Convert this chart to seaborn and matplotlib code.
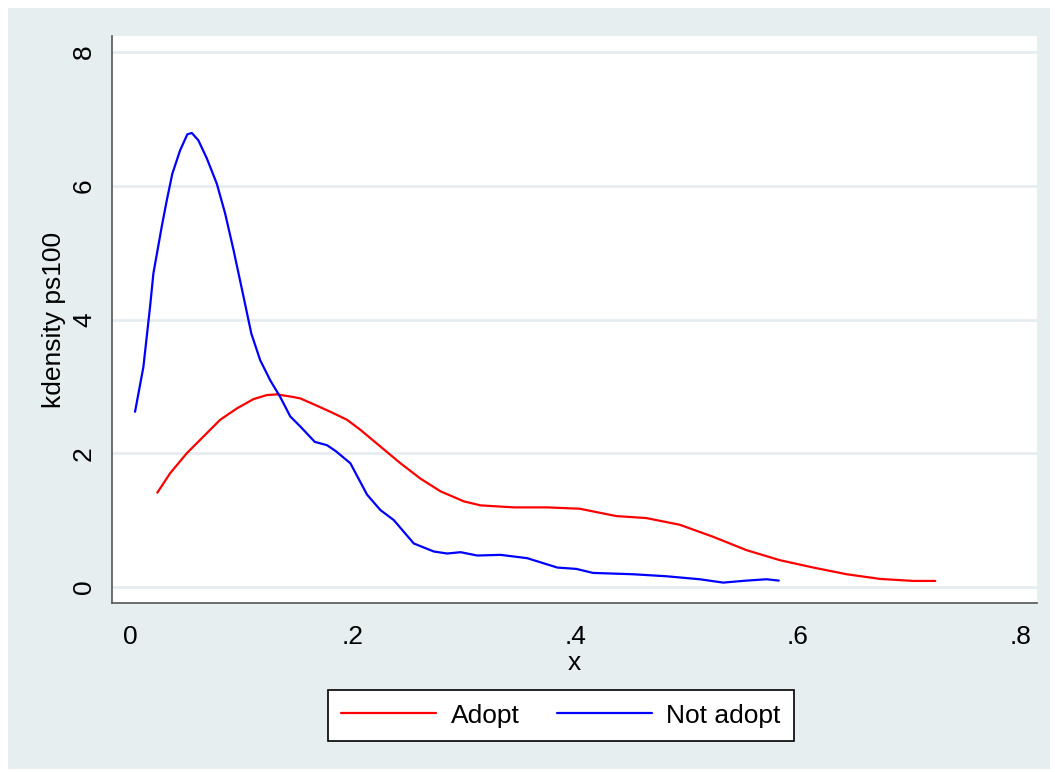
import pandas as pd
import matplotlib.pyplot as plt
import seaborn as sns
from matplotlib.patches import Rectangle

# Density curves (x = propensity score, y = density)
adopt_x = [0.0245, 0.036, 0.051, 0.066, 0.081, 0.096, 0.111, 0.123, 0.132, 0.147,
           0.153, 0.168, 0.180, 0.195, 0.207, 0.225, 0.243, 0.261, 0.279, 0.300,
           0.315, 0.345, 0.375, 0.404, 0.437, 0.464, 0.494, 0.524, 0.554, 0.584,
           0.614, 0.644, 0.674, 0.704, 0.7236]
adopt_y = [1.41, 1.70, 2.00, 2.25, 2.50, 2.67, 2.81, 2.87, 2.88, 2.84,
           2.82, 2.71, 2.62, 2.50, 2.35, 2.10, 1.85, 1.62, 1.43, 1.28,
           1.22, 1.19, 1.19, 1.17, 1.06, 1.03, 0.93, 0.75, 0.55, 0.40,
           0.29, 0.19, 0.12, 0.09, 0.09]

notadopt_x = [0.0045, 0.012, 0.018, 0.021, 0.0285, 0.033, 0.038, 0.045, 0.0515, 0.0555,
              0.0614, 0.069, 0.078, 0.0854, 0.093, 0.102, 0.109, 0.117, 0.126, 0.135,
              0.144, 0.153, 0.166, 0.177, 0.185, 0.198, 0.213, 0.225, 0.237, 0.255,
              0.273, 0.285, 0.297, 0.312, 0.333, 0.357, 0.384, 0.401, 0.416, 0.452,
              0.482, 0.512, 0.533, 0.554, 0.572, 0.583]
notadopt_y = [2.62, 3.29, 4.19, 4.69, 5.39, 5.78, 6.18, 6.53, 6.77, 6.79,
              6.68, 6.41, 6.03, 5.59, 5.04, 4.34, 3.79, 3.39, 3.09, 2.84,
              2.55, 2.40, 2.17, 2.12, 2.03, 1.85, 1.38, 1.15, 1.00, 0.65,
              0.53, 0.50, 0.52, 0.47, 0.48, 0.43, 0.29, 0.27, 0.21, 0.19,
              0.16, 0.115, 0.065, 0.095, 0.115, 0.095]

groups = ["Adopt", "Not adopt"]
xticks = [0, 0.2, 0.4, 0.6, 0.8]
xticklabels = ["0", ".2", ".4", ".6", ".8"]
yticks = [0, 2, 4, 6, 8]

df = pd.concat([
    pd.DataFrame({"x": adopt_x, "density": adopt_y, "group": groups[0]}),
    pd.DataFrame({"x": notadopt_x, "density": notadopt_y, "group": groups[1]}),
], ignore_index=True)

sns.set_style("white")
plt.rcParams["font.family"] = ["Liberation Sans", "DejaVu Sans"]
plt.rcParams["text.color"] = "black"
plt.rcParams["axes.labelcolor"] = "black"
plt.rcParams["xtick.color"] = "black"
plt.rcParams["ytick.color"] = "black"

bg = "#E7EEF0"
W, H = 1055, 772
fig = plt.figure(figsize=(W / 100, H / 100), dpi=100, facecolor="white")
fig.patches.append(Rectangle((8 / W, 3 / H), (W - 13) / W, (H - 11) / H,
                             transform=fig.transFigure, facecolor=bg,
                             edgecolor="none", zorder=-10))

ax = fig.add_axes([112 / W, (H - 603) / H, (1037 - 112) / W, (603 - 36) / H])
ax.set_facecolor("white")

sns.lineplot(data=df, x="x", y="density", hue="group", sort=False,
             estimator=None, palette={"Adopt": "#FF0000", "Not adopt": "#0000FF"},
             linewidth=1.6, legend=False, ax=ax)

ax.set_xlim(-0.0162, 0.815)
ax.set_ylim(-0.24, 8.24)
ax.set_xticks(xticks)
ax.set_xticklabels(xticklabels)
ax.set_yticks(yticks)
ax.set_yticklabels([str(v) for v in yticks], rotation=90, va="center")

for v in yticks:
    ax.axhline(v, color="#E6EDF0", linewidth=2, zorder=0)

for side in ["top", "right"]:
    ax.spines[side].set_visible(False)
for side in ["left", "bottom"]:
    ax.spines[side].set_color("#555555")
    ax.spines[side].set_linewidth(1.2)

ax.tick_params(axis="both", direction="out", length=8.5, width=1, color="#555555",
               labelsize=19, pad=3)
ax.tick_params(axis="x", pad=7)
ax.set_xlabel("x", fontsize=19, labelpad=2)
ax.set_ylabel("kdensity ps100", fontsize=19, labelpad=4)

handles = [plt.Line2D([], [], color="#FF0000", linewidth=1.6),
           plt.Line2D([], [], color="#0000FF", linewidth=1.6)]
leg = fig.legend(handles, groups, loc="center", ncol=2,
                 bbox_to_anchor=(561 / W, 1 - 715.5 / H), fontsize=19,
                 frameon=True, fancybox=False, edgecolor="black",
                 handlelength=3.6, handletextpad=0.55, columnspacing=1.4,
                 borderpad=0.5, borderaxespad=0)
leg.get_frame().set_linewidth(1.2)
leg.get_frame().set_facecolor("white")
leg.get_frame().set_alpha(1)

fig.savefig("out.png", dpi=100, facecolor="white")
